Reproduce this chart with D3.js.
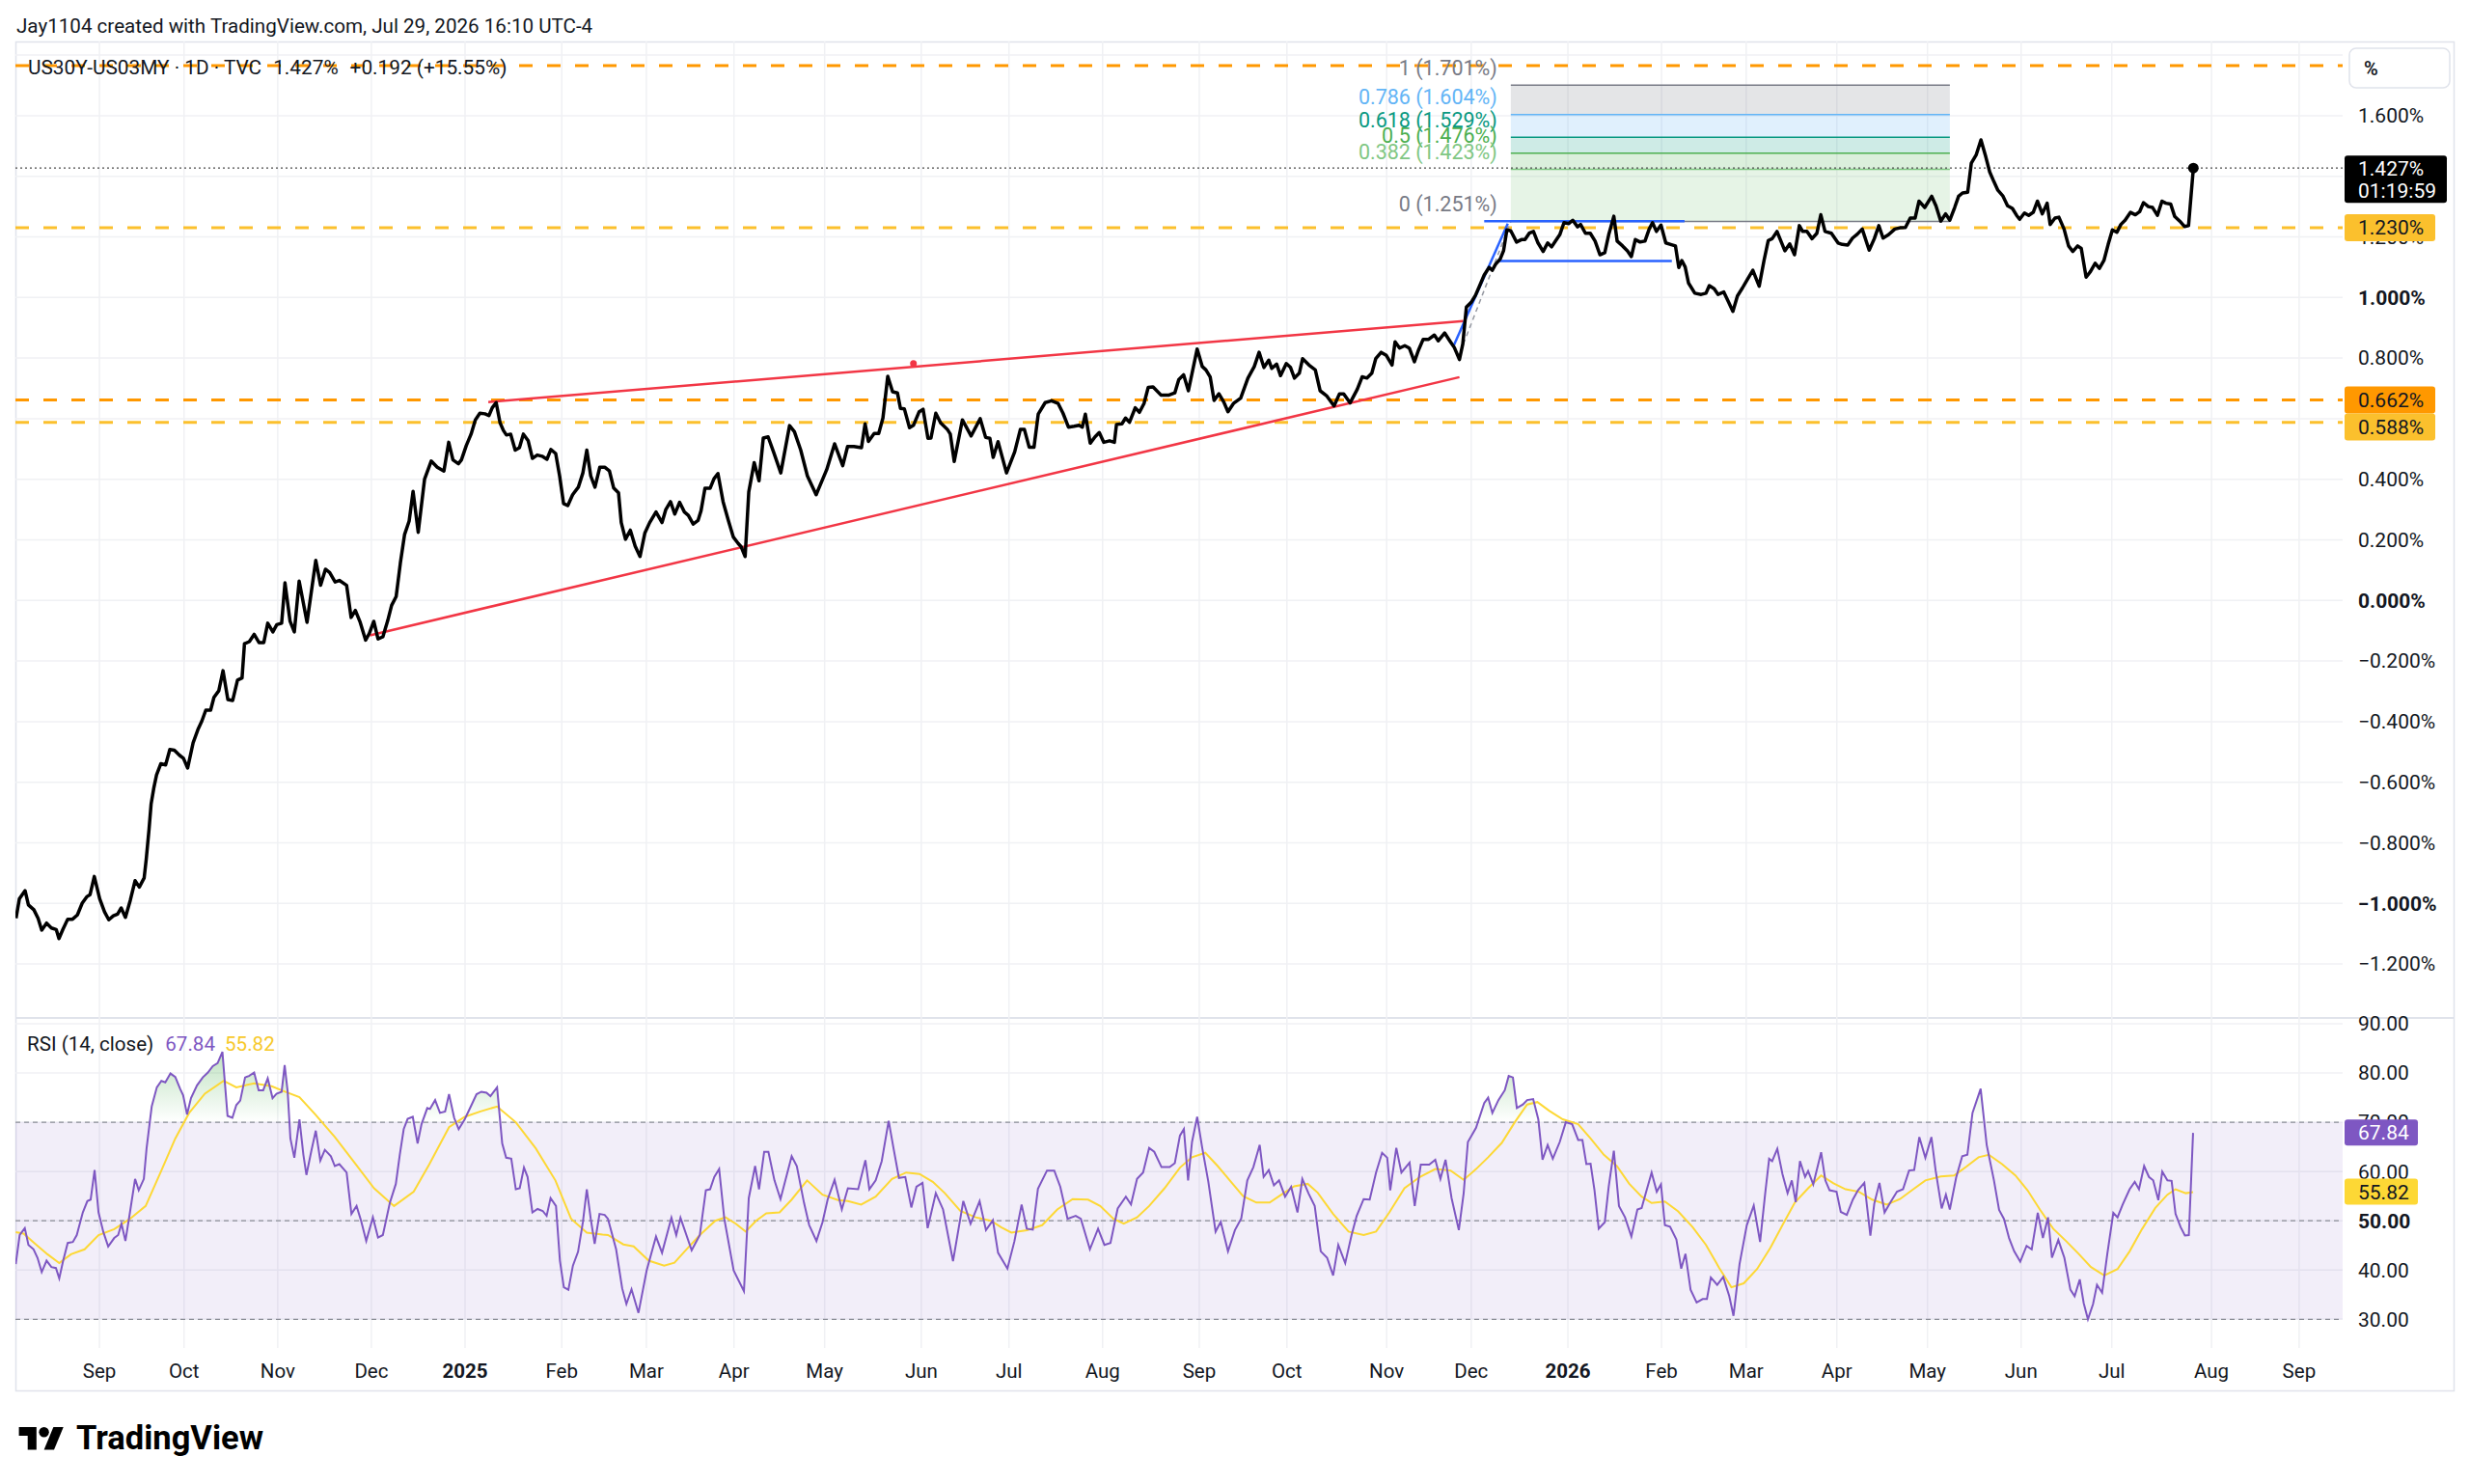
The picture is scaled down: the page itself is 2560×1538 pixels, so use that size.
<!DOCTYPE html>
<html>
<head>
<meta charset="utf-8">
<script src="https://cdn.jsdelivr.net/npm/d3@7"></script>
<style>
  body { margin: 0; background: #fff; }
  svg { display: block; font-family: Roboto, "Liberation Sans", sans-serif; }
</style>
</head>
<body>
<div id="chart"></div>
<script>
// Datos. Días contados desde 2024-09-03 (primera sesión de septiembre)
const startDay = "2024-09-03";

// US30Y-US03MY, cierre diario (día, %)
const pricePoints = [
  [-27.6,-1.049],[-26.5,-0.985],[-24.6,-0.958],[-23.5,-1.005],[-21.7,-1.021],[-20.3,-1.049],[-19.1,-1.088],[-17.5,-1.065],
  [-15.9,-1.081],[-14.3,-1.086],[-13.4,-1.116],[-12.1,-1.086],[-10.5,-1.052],[-8.9,-1.052],[-7.3,-1.038],[-5.7,-0.999],
  [-4.2,-0.978],[-3.1,-0.971],[-1.7,-0.911],[0.1,-0.985],[1.7,-1.028],[3.1,-1.054],[4.6,-1.041],[6.0,-1.035],[7.2,-1.015],
  [8.6,-1.046],[10.2,-0.990],[11.8,-0.925],[13.2,-0.946],[14.8,-0.916],[15.5,-0.853],[16.4,-0.757],[17.1,-0.672],[18.0,-0.619],
  [18.9,-0.576],[20.3,-0.539],[21.9,-0.543],[23.3,-0.492],[24.8,-0.494],[26.5,-0.511],[27.8,-0.521],[29.2,-0.553],[31.0,-0.470],
  [32.6,-0.426],[33.9,-0.398],[35.2,-0.362],[36.8,-0.362],[37.9,-0.320],[39.5,-0.298],[40.9,-0.232],[42.5,-0.327],[44.1,-0.330],
  [45.7,-0.263],[47.2,-0.256],[48.0,-0.143],[49.6,-0.136],[51.2,-0.112],[52.8,-0.139],[54.4,-0.139],[55.7,-0.075],[57.4,-0.104],
  [58.7,-0.080],[60.3,-0.075],[61.4,0.058],[63.1,-0.069],[64.5,-0.104],[66.1,0.064],[68.7,-0.072],[71.6,0.132],[73.2,0.050],
  [74.8,0.103],[76.2,0.092],[78.0,0.061],[79.4,0.066],[81.8,0.050],[83.3,-0.056],[84.7,-0.033],[86.3,-0.072],[88.1,-0.131],
  [89.3,-0.109],[90.8,-0.069],[92.2,-0.127],[93.8,-0.120],[95.4,-0.067],[96.7,-0.016],[98.2,0.013],[99.6,0.124],[101.0,0.218],
  [102.5,0.262],[103.8,0.36],[105.5,0.225],[107.6,0.40],[109.8,0.46],[111.8,0.44],
  [114.0,0.427],[115.6,0.522],[117.0,0.464],[118.8,0.451],[119.8,0.464],[121.4,0.511],[123.0,0.549],[124.4,0.596],[125.9,0.618],
  [127.6,0.616],[128.9,0.610],[130.0,0.636],[131.3,0.653],[132.6,0.586],[133.7,0.561],[134.7,0.546],[136.1,0.549],[137.6,0.496],
  [139.0,0.504],[140.3,0.549],[141.9,0.527],[143.3,0.469],[144.9,0.480],[146.5,0.476],[148.1,0.466],[149.4,0.498],[151.0,0.485],
  [152.3,0.411],[153.6,0.320],[155.0,0.313],[156.6,0.349],[158.5,0.374],[160.0,0.421],[161.3,0.496],[162.6,0.411],[164.0,0.374],
  [165.6,0.440],[167.2,0.440],[168.8,0.427],[170.2,0.371],[171.8,0.355],[172.7,0.257],[174.1,0.202],[175.7,0.232],[177.3,0.179],
  [178.9,0.145],[180.5,0.222],[182.1,0.257],[184.2,0.292],[186.2,0.257],[187.4,0.299],[189.0,0.326],[190.4,0.285],[192.0,0.324],
  [193.6,0.292],[194.9,0.281],[196.5,0.252],[198.1,0.264],[199.1,0.296],[200.4,0.370],[202.1,0.370],[203.4,0.402],[204.7,0.419],
  [206.4,0.326],[208.2,0.262],[209.8,0.209],[211.4,0.188],[212.4,0.177],[213.7,0.145],[214.9,0.358],[216.7,0.455],[218.3,0.395],
  [219.7,0.536],[221.3,0.540],[223.1,0.490],[225.5,0.421],[228.4,0.577],[230.0,0.557],[232.1,0.496],[234.3,0.411],[237.2,0.349],
  [240.7,0.432],[243.3,0.517],[246.0,0.445],[247.6,0.508],[249.7,0.508],[252.2,0.504],[253.4,0.583],[254.5,0.525],[256.4,0.551],
  [257.9,0.551],[259.3,0.602],[260.9,0.740],
  [262.5,0.689],[264.1,0.685],[265.1,0.634],[266.4,0.632],[268.1,0.570],[269.4,0.578],[271.3,0.623],[272.6,0.631],[274.2,0.535],
  [275.2,0.536],[276.8,0.618],[278.4,0.586],[280.6,0.565],[281.6,0.549],[282.9,0.459],[285.6,0.596],[288.5,0.543],[291.5,0.600],
  [293.3,0.538],[294.7,0.535],[295.8,0.472],[297.4,0.524],[300.2,0.421],[302.9,0.490],[304.8,0.565],[306.1,0.565],[307.7,0.506],
  [309.3,0.506],[310.7,0.615],[313.0,0.653],[315.1,0.659],[317.3,0.650],[318.9,0.618],[320.7,0.572],[322.6,0.575],[324.2,0.578],
  [325.3,0.572],[326.3,0.615],[327.9,0.519],[329.5,0.540],[330.9,0.554],[332.4,0.522],[334.3,0.527],[335.9,0.522],[336.6,0.581],
  [338.4,0.583],[339.6,0.602],[340.9,0.588],[342.8,0.636],[344.2,0.621],[345.7,0.650],[347.1,0.703],[348.7,0.705],[351.3,0.678],
  [354.0,0.678],[355.9,0.685],[357.2,0.729],[358.8,0.745],[360.4,0.692],[363.3,0.830],[365.0,0.772],[366.2,0.761],[367.6,0.738],
  [368.9,0.660],[370.5,0.682],[372.1,0.655],[373.5,0.623],[375.3,0.650],[377.7,0.668],[380.1,0.734],[382.2,0.772],[383.8,0.819],
  [385.4,0.769],[387.0,0.793],[388.0,0.766],[389.6,0.780],[390.9,0.742],[392.8,0.782],[394.2,0.769],[395.5,0.734],[397.1,0.750],
  [398.2,0.798],[400.3,0.777],[402.4,0.761],[404.0,0.692],[406.1,0.676],[408.6,0.642],[410.4,0.682],[411.8,0.682],[413.9,0.652],
  [416.3,0.697],[417.9,0.738],[419.5,0.734],[421.1,0.750],[422.4,0.798],[424.2,0.819],[425.9,0.809],[427.8,0.777],[428.8,0.854],
  [430.3,0.833],[432.0,0.841],[433.5,0.833],[435.2,0.788],[436.5,0.825],[438.1,0.862],[439.9,0.862],[441.8,0.876],[443.1,0.857],
  [445.2,0.883],[446.9,0.857],[448.4,0.835],[450.1,0.795],[451.2,0.846],[452.4,0.968],[454.0,0.984],[455.4,1.007],[456.7,1.037],
  [458.3,1.074],[459.9,1.099],[461.0,1.090],[462.0,1.109],[463.6,1.127],[464.7,1.154],[465.8,1.223],[467.1,1.220],[469.0,1.183],
  [470.6,1.191],[471.8,1.191],[473.2,1.212],[474.6,1.218],[476.1,1.180],[477.8,1.152],[479.3,1.180],[480.6,1.167],[482.0,1.188],
  [483.3,1.207],[484.7,1.247],[486.3,1.244],[487.6,1.255],[489.2,1.233],[490.2,1.241],[491.8,1.212],[493.4,1.212],[495.0,1.186],
  [496.6,1.141],[498.2,1.148],[499.5,1.207],[501.2,1.268],[502.3,1.186],[504.1,1.170],[505.7,1.154],[507.0,1.135],[508.3,1.191],
  [509.9,1.183],[511.5,1.186],[512.9,1.226],[514.0,1.247],[515.3,1.218],[516.8,1.239],[518.4,1.180],[520.0,1.175],[521.6,1.170],
  [522.7,1.099],[523.7,1.122],[524.8,1.101],[525.9,1.048],[528.0,1.014],[530.1,1.010],[531.7,1.014],[532.8,1.039],[534.4,1.029],
  [535.7,1.010],[537.6,1.018],[539.2,0.984],[540.6,0.954],[542.1,1.005],[543.8,1.032],[545.3,1.058],[547.2,1.090],[549.3,1.037],
  [550.9,1.122],[552.3,1.188],[553.6,1.194],[555.2,1.218],[556.5,1.186],[557.8,1.154],[559.4,1.177],[561.0,1.141],
  [562.6,1.237],[563.7,1.218],[565.1,1.218],[566.8,1.194],[568.4,1.212],[569.7,1.273],[571.1,1.218],[573.2,1.212],[575.4,1.180],
  [576.8,1.175],[578.6,1.173],[580.2,1.196],[581.8,1.209],[583.4,1.226],[585.7,1.156],[587.4,1.194],[588.9,1.237],[590.3,1.196],
  [592.1,1.207],[594.2,1.226],[595.9,1.230],[597.7,1.231],[599.3,1.262],[600.9,1.262],[602.2,1.318],[604.1,1.297],[606.4,1.334],
  [607.8,1.303],[609.4,1.252],[611.0,1.276],[612.4,1.255],[614.0,1.297],[615.3,1.334],[616.6,1.345],[618.3,1.347],[619.5,1.443],
  [621.1,1.470],[622.7,1.520],[624.3,1.464],[625.6,1.414],[627.0,1.382],[628.3,1.354],[629.9,1.336],[631.5,1.303],[633.1,1.294],
  [634.5,1.271],[635.5,1.258],[637.1,1.279],[638.5,1.271],[640.0,1.281],[641.4,1.318],[643.0,1.276],[644.6,1.311],[645.6,1.241],
  [647.2,1.262],[648.5,1.265],[650.2,1.226],[651.7,1.170],[653.1,1.152],[654.7,1.170],[655.9,1.162],[657.5,1.067],[658.9,1.085],
  [660.5,1.113],[661.9,1.096],[663.4,1.122],[664.8,1.175],[666.2,1.223],[667.7,1.215],[669.0,1.241],[670.4,1.255],[672.2,1.281],
  [673.8,1.273],[675.2,1.283],[676.5,1.313],[678.1,1.300],[679.5,1.297],[681.1,1.271],[682.6,1.318],[683.9,1.311],[685.5,1.308],
  [686.8,1.268],[688.5,1.252],[690.1,1.234],[691.4,1.237],[693.0,1.427]
];

// RSI(14) (día, valor)
const rsiPoints = [
  [-27.7,41.2],[-26.4,47.1],[-24.7,48.5],[-23.5,45.1],[-21.8,44.2],[-20.5,42.5],[-19.1,39.6],[-17.5,41.9],[-15.9,40.6],[-14.4,40.4],
  [-13.3,38.3],[-12.0,41.9],[-10.5,45.5],[-8.8,45.7],[-7.5,47.1],[-5.5,51.7],[-4.0,54.0],[-2.9,54.3],[-1.6,60.3],[-0.3,51.7],
  [1.3,47.7],[2.9,44.8],[4.9,46.5],[6.2,47.1],[7.3,49.4],[8.6,45.9],[10.1,51.7],[11.8,58.5],[13.0,56.2],[14.7,58.5],[15.6,64.7],
  [17.3,73.2],[19.0,77.1],[20.5,78.4],[21.8,78.1],[23.5,79.9],[25.1,79.2],[26.7,76.8],[27.7,75.5],[29.0,71.6],[30.3,74.9],
  [32.3,77.5],[34.2,79.1],[35.9,80.1],[37.5,81.4],[39.1,82.0],[40.7,84.3],[42.4,71.3],[44.0,70.9],[45.3,73.5],[46.6,74.4],
  [48.2,79.1],[49.5,79.4],[51.2,80.1],[52.7,76.5],[54.2,76.5],[55.7,78.9],[57.3,74.9],[58.6,75.8],[60.3,76.2],[61.3,81.6],
  [62.3,76.2],[63.2,66.7],[64.5,62.8],[66.2,70.6],[67.5,63.4],[68.5,59.3],[70.1,64.1],[71.6,68.3],[73.1,62.2],[74.6,64.4],
  [76.6,63.1],[77.9,61.1],[79.4,61.5],[81.8,59.8],[83.4,51.4],[85.1,53.0],[86.6,50.0],[88.3,45.9],[90.5,50.7],[92.2,46.6],
  [93.8,47.1],[96.1,53.6],[98.1,57.5],[99.4,63.4],[100.7,68.6],[102.0,70.7],[103.7,71.1],[105.3,65.7],[106.6,69.6],[108.5,72.9],
  [109.4,72.7],[111.1,74.5],[112.7,71.9],[114.4,72.2],[115.7,75.7],[117.4,70.9],[118.9,68.6],[120.9,70.6],[122.9,73.2],[124.8,75.7],
  [126.4,76.2],[128.1,76.0],[129.4,75.3],[131.6,77.1],[133.3,65.7],[134.6,62.8],[136.3,62.6],[137.8,56.4],[139.1,56.6],[140.5,60.8],
  [141.7,58.9],[143.3,51.7],[145.0,52.4],[146.7,52.0],[148.0,51.0],[149.3,54.6],[151.1,53.0],[152.4,41.9],[153.7,36.5],[155.2,36.0],
  [156.7,40.9],[158.4,43.7],[160.0,49.7],[161.3,56.4],[162.6,50.4],[163.9,45.3],[165.5,51.4],[167.2,51.2],
  [168.3,50.4],[171.0,44.2],[173.0,36.3],[174.4,33.1],[176.1,36.1],[178.4,31.3],[181.1,39.9],[184.2,46.8],[186.2,43.5],[189.3,50.6],
  [190.9,47.1],[192.3,50.6],[196.0,44.0],[198.7,47.1],[200.7,56.2],[202.1,56.4],[203.5,58.9],[205.1,60.5],[206.8,50.4],[209.9,39.9],
  [213.3,35.7],[214.9,54.6],[217.0,61.1],[218.3,56.4],[220.0,64.0],[221.4,64.0],[223.4,58.2],[225.4,54.4],[229.1,63.1],[230.8,61.1],
  [233.2,53.6],[234.9,49.1],[237.3,45.9],[239.3,49.7],[241.0,54.3],[243.3,58.3],[245.7,52.3],[247.7,56.6],[251.1,56.4],[253.5,62.3],
  [254.8,56.4],[256.9,58.2],[258.9,62.1],[261.2,70.3],[262.9,64.4],[264.6,58.7],[266.7,58.9],[268.7,52.7],[270.4,56.9],[272.4,57.7],
  [274.1,48.5],[276.8,55.6],[279.2,52.3],[282.5,41.8],[285.9,54.0],[288.3,49.4],[291.3,54.0],[293.4,48.1],[295.7,50.1],[297.4,43.5],
  [300.5,40.3],[302.8,45.8],[305.2,53.3],[306.9,48.4],[308.9,48.2],[310.6,56.5],[313.6,60.2],[316.0,60.2],[318.0,56.9],[320.4,50.4],
  [323.1,51.0],[324.8,50.4],[327.8,44.2],[330.5,48.4],[332.6,45.1],[334.6,45.5],[337.0,52.5],[339.7,54.9],[341.4,53.3],[343.4,58.5],
  [345.4,59.8],[347.4,64.8],[349.1,64.0],[351.5,60.9],[354.2,60.9],[355.9,61.7],[357.6,67.3],[358.9,68.6],[360.3,58.2],[361.6,66.0],
  [363.3,71.1],[365.0,64.7],[367.0,57.9],[369.4,47.8],[371.1,49.8],[373.5,43.8],[375.8,48.1],[377.9,50.5],[379.9,58.2],[381.9,60.9],
  [384.0,65.4],[385.3,58.9],[387.0,60.3],[388.7,57.2],[390.4,58.2],[392.4,54.9],[394.4,56.9],[396.5,51.7],[398.1,58.5],[400.2,55.5],
  [402.2,53.0],[404.2,43.8],[406.3,42.5],[408.3,38.9],[410.0,45.1],[412.3,41.4],[414.4,47.1],[416.1,51.0],[418.4,54.4],[420.4,54.3],
  [422.5,59.8],[424.5,63.8],[426.2,62.8],[427.2,56.2],[429.2,64.8],[430.9,59.8],[433.6,61.8],[435.3,53.0],[437.3,61.4],[440.1,61.4],
  [442.1,62.4],[443.8,58.5],[445.5,62.4],[447.5,54.6],[449.9,48.1],[451.5,55.6],[452.9,66.0],[455.6,68.9],[458.3,73.9],[459.6,75.0],
  [461.0,71.9],[463.0,74.5],[465.1,76.5],[466.4,79.4],[467.8,79.1],[469.1,72.9],[471.1,73.6],[472.5,74.5],[474.5,74.7],[476.2,70.6],
  [477.6,62.4],[479.3,65.4],[481.0,62.6],[483.3,66.0],[485.3,70.0],[487.4,69.6],[489.4,66.4],[490.8,66.4],[492.1,61.5],[493.5,61.6],
  [494.8,56.2],[496.2,48.4],[498.2,49.7],[499.5,56.9],[501.2,64.2],[502.9,53.0],[504.9,50.7],[507.0,46.8],[509.0,52.3],[510.4,52.6],
  [512.0,56.1],[513.7,59.8],[515.4,55.9],[516.8,57.4],[518.1,49.1],[519.8,48.8],[521.9,46.2],[523.5,40.3],[524.9,43.3],[526.6,36.0],
  [528.6,33.4],[530.6,34.1],[532.0,34.1],[533.3,38.5],[535.4,37.0],[537.4,38.6],[539.4,34.7],[540.8,30.7],[542.8,41.2],[545.2,49.1],
  [547.5,53.1],[549.6,45.7],[551.3,55.6],[552.6,62.6],[553.6,62.1],[555.3,64.6],[557.0,59.5],[558.7,55.6],[560.1,58.2],[561.4,53.8],
  [562.8,62.1],[564.5,58.9],[565.5,60.1],[567.2,57.4],[569.8,63.9],[571.2,58.2],[572.6,56.2],[574.9,55.9],[576.3,51.8],[578.3,51.2],
  [580.3,54.3],[582.0,56.2],[584.1,57.7],[586.1,47.0],[587.4,53.5],[589.1,57.7],[590.8,51.7],[592.8,53.8],[594.9,55.9],[596.9,56.4],
  [598.9,60.2],[600.6,60.3],[602.3,67.0],[604.3,62.8],[606.3,67.0],[607.7,60.2],[609.7,52.5],[611.1,55.3],[612.4,52.3],[614.5,58.8],
  [616.5,63.1],[618.2,63.4],[619.9,71.9],[622.6,76.8],[624.6,65.4],[627.0,58.2],[628.7,52.2],[630.3,50.4],[632.0,46.5],[633.7,43.8],
  [635.7,41.7],[637.8,44.9],[639.5,44.2],[641.5,51.6],[643.2,46.5],[644.9,50.7],[646.2,42.5],[648.3,46.1],[650.3,42.5],[652.3,36.0],
  [653.7,34.7],[655.4,38.1],[656.7,33.3],[658.1,30.0],[659.8,33.1],[661.1,37.0],[662.8,35.4],[664.5,43.2],[666.5,51.6],[667.9,50.7],
  [669.6,53.3],[671.9,56.4],[673.6,57.9],[675.0,56.4],[676.7,61.1],[678.3,58.9],[679.7,58.2],[681.4,54.2],[682.7,60.0],[684.4,58.2],
  [685.8,58.1],[687.1,51.4],[688.8,48.7],[690.2,47.0],[691.5,47.1],[692.9,67.84]
];

// Media del RSI (día, valor)
const rsiMaPoints = [
  [-27.7,47.7],[-25.1,47.4],[-21.2,45.3],[-17.2,43.2],[-13.3,41.4],[-9.4,43.2],[-4.9,44.2],[-0.3,47.1],[4.9,48.3],[10.1,50.4],
  [15.3,53.0],[20.5,60.2],[25.1,66.7],[29.7,71.9],[34.9,75.8],[41.1,78.4],[45.3,77.1],[51.2,77.9],[57.0,77.3],[61.0,76.3],
  [66.2,75.1],[71.4,71.6],[77.9,67.0],[84.4,61.8],[90.9,56.6],[97.5,53.0],[104.0,55.9],[109.2,61.5],[115.7,69.0],[120.9,71.1],
  [126.1,72.2],[131.6,73.2],[137.8,70.0],[144.4,64.7],[150.9,58.2],[156.1,50.4],[161.3,47.6],[166.5,47.2],
  [168.3,47.1],[173.4,45.2],[176.8,44.8],[181.8,41.9],[186.9,40.9],[190.3,41.5],[193.7,43.8],[198.7,47.1],[203.8,50.0],[207.2,50.7],
  [210.6,49.4],[213.9,47.8],[217.3,50.0],[220.7,51.5],[225.1,51.7],[229.1,54.3],[234.2,58.2],[239.3,55.3],[244.4,54.2],[247.7,54.0],
  [252.1,53.3],[256.9,54.9],[262.3,58.5],[267.0,59.8],[271.4,59.5],[275.8,57.9],[279.8,55.6],[284.9,52.0],[290.0,50.7],[295.1,50.0],
  [298.4,48.7],[301.8,47.6],[306.9,48.1],[312.0,49.1],[317.0,52.3],[322.1,54.4],[327.2,54.3],[331.2,53.0],[335.6,50.4],[339.0,49.4],
  [343.4,50.7],[347.4,53.0],[352.5,56.6],[357.6,60.8],[361.6,62.9],[366.0,63.8],[370.1,61.1],[374.5,57.9],[378.5,55.0],[382.9,53.7],
  [387.3,53.7],[391.4,55.4],[395.4,57.0],[399.9,57.5],[403.2,55.7],[408.3,51.4],[413.4,47.8],[418.4,47.1],[422.5,47.8],[426.9,51.7],
  [431.9,56.6],[437.0,58.9],[442.1,60.5],[447.2,60.2],[451.5,58.3],[455.6,60.5],[459.6,62.9],[464.1,65.8],[468.4,70.0],[472.5,73.6],
  [475.9,74.1],[479.9,72.3],[484.3,70.6],[489.4,69.6],[493.5,66.7],[497.9,63.4],[502.2,61.1],[506.3,57.5],[510.4,54.9],[513.7,53.6],
  [518.1,53.9],[522.5,51.9],[527.3,48.7],[531.7,45.1],[536.0,40.5],[540.1,36.5],[544.2,37.3],[548.6,40.2],[553.0,44.5],[557.0,49.1],
  [561.1,53.7],[565.5,56.6],[569.8,59.2],[573.9,57.6],[577.9,56.4],[582.3,55.9],[586.7,54.3],[591.5,53.3],[595.9,54.4],[600.3,56.4],
  [604.3,58.2],[609.4,59.0],[613.8,59.2],[617.9,61.0],[621.9,62.9],[625.3,63.4],[629.7,61.5],[634.1,59.2],[638.1,56.2],[642.2,52.3],
  [646.6,48.4],[651.0,45.8],[655.0,43.3],[659.1,40.6],[663.5,38.9],[667.9,40.2],[671.9,43.8],[676.0,48.3],[680.4,52.6],[684.4,55.3],
  [687.1,56.4],[690.5,55.6],[692.9,55.82]
];

// Retroceso de Fibonacci
const fibRatios = [1, 0.786, 0.618, 0.5, 0.382, 0];
const fibValues = [1.701, 1.604, 1.529, 1.476, 1.423, 1.251];
const fibDays = [467.1, 612.4];

// Líneas horizontales discontinuas
const levelValues = [1.765, 1.230, 0.662, 0.588];
const levelLabelled = [false, true, true, true];

// Cuña (rojo) y bandera (azul): [[día, valor], [día, valor]]
const wedgeLines = [
  [[128.7, 0.655], [451.4, 0.922]],
  [[89.5, -0.115], [450.1, 0.737]]
];
const wedgeDot = [269.4, 0.782];
const flagLines = [
  [[448.2, 0.841], [466.1, 1.244]],
  [[458.3, 1.2516], [524.6, 1.2516]],
  [[463.1, 1.120], [520.4, 1.120]]
];
const fibTrend = [[451.4, 0.846], [467.1, 1.251]];

// Ejes
const priceTicks = [-1.2, -1.0, -0.8, -0.6, -0.4, -0.2, 0, 0.2, 0.4, 0.6, 0.8, 1.0, 1.2, 1.4, 1.6, 1.8];
const rsiTicks = [30, 40, 50, 60, 70, 80, 90];
const monthTickDates = ["2024-09-03","2024-10-01","2024-11-01","2024-12-02","2025-01-02","2025-02-03","2025-03-03",
  "2025-04-01","2025-05-01","2025-06-02","2025-07-01","2025-08-01","2025-09-02","2025-10-01","2025-11-03","2025-12-01",
  "2026-01-02","2026-02-02","2026-03-02","2026-04-01","2026-05-01","2026-06-01","2026-07-01","2026-08-03","2026-09-01"];
const monthTickLabels = ["Sep","Oct","Nov","Dec","2025","Feb","Mar","Apr","May","Jun","Jul","Aug",
  "Sep","Oct","Nov","Dec","2026","Feb","Mar","Apr","May","Jun","Jul","Aug","Sep"];

const lastPrice = 1.427, lastRsi = 67.84, lastRsiMa = 55.82;

// Dimensiones
const width = 2560, height = 1538;
const plotL = 16, plotR = 2428, frameR = 2543;
const frameT = 43, priceB = 1054, rsiT = 1056, rsiB = 1397, frameB = 1441;
const axisTextX = 2444;
const ink = "#131722";

const parseDay = d3.timeParse("%Y-%m-%d");
const day0 = parseDay(startDay);

const x = d3.scaleLinear().domain([-27.8, 742.4]).range([plotL, plotR]);
const y = d3.scaleLinear().domain([-1.2, 1.6]).range([999.1, 119.9]);
const yR = d3.scaleLinear().domain([30, 90]).range([1367.3, 1061]);

const svg = d3.select("#chart").append("svg")
  .attr("width", width).attr("height", height)
  .attr("viewBox", `0 0 ${width} ${height}`);

svg.append("rect").attr("width", width).attr("height", height).attr("fill", "#fff");

const defs = svg.append("defs");
defs.append("clipPath").attr("id", "clip-price").append("rect")
  .attr("x", plotL).attr("y", frameT).attr("width", plotR - plotL).attr("height", priceB - frameT);
defs.append("clipPath").attr("id", "clip-rsi").append("rect")
  .attr("x", plotL).attr("y", rsiT).attr("width", plotR - plotL).attr("height", rsiB - rsiT);
defs.append("clipPath").attr("id", "clip-ob").append("rect")
  .attr("x", plotL).attr("y", rsiT).attr("width", plotR - plotL).attr("height", yR(70) - rsiT);
defs.append("clipPath").attr("id", "clip-os").append("rect")
  .attr("x", plotL).attr("y", yR(30)).attr("width", plotR - plotL).attr("height", rsiB - yR(30));

const obGrad = defs.append("linearGradient").attr("id", "ob-grad")
  .attr("gradientUnits", "userSpaceOnUse").attr("x1", 0).attr("x2", 0)
  .attr("y1", yR(100)).attr("y2", yR(70));
obGrad.append("stop").attr("offset", 0).attr("stop-color", "#4caf50").attr("stop-opacity", 0.75);
obGrad.append("stop").attr("offset", 1).attr("stop-color", "#4caf50").attr("stop-opacity", 0);
const osGrad = defs.append("linearGradient").attr("id", "os-grad")
  .attr("gradientUnits", "userSpaceOnUse").attr("x1", 0).attr("x2", 0)
  .attr("y1", yR(30)).attr("y2", yR(0));
osGrad.append("stop").attr("offset", 0).attr("stop-color", "#f23645").attr("stop-opacity", 0);
osGrad.append("stop").attr("offset", 1).attr("stop-color", "#f23645").attr("stop-opacity", 0.75);

// Cabecera
svg.append("text").attr("x", 17).attr("y", 27).attr("dy", "0.35em")
  .attr("font-size", 20.6).attr("fill", ink)
  .text("Jay1104 created with TradingView.com, Jul 29, 2026 16:10 UTC-4");

// Marco
svg.append("rect").attr("x", plotL + 0.5).attr("y", frameT + 0.5)
  .attr("width", frameR - plotL).attr("height", frameB - frameT)
  .attr("fill", "none").attr("stroke", "#e0e3eb").attr("stroke-width", 1.5);
svg.append("line").attr("x1", plotL).attr("x2", frameR).attr("y1", priceB + 1).attr("y2", priceB + 1)
  .attr("stroke", "#e0e3eb").attr("stroke-width", 2);

// Rejilla
const monthDays = monthTickDates.map((s) => d3.timeDay.count(day0, parseDay(s)));
const grid = svg.append("g").attr("stroke", "#f0f1f4").attr("stroke-width", 1.5);
grid.selectAll("line.v").data(monthDays).enter().append("line")
  .attr("x1", (d) => x(d)).attr("x2", (d) => x(d))
  .attr("y1", frameT).attr("y2", rsiB);
grid.selectAll("line.hp").data(priceTicks.filter((t) => y(t) > frameT && y(t) < priceB)).enter().append("line")
  .attr("x1", plotL).attr("x2", plotR).attr("y1", (d) => y(d)).attr("y2", (d) => y(d));
grid.selectAll("line.hr").data(rsiTicks).enter().append("line")
  .attr("x1", plotL).attr("x2", plotR).attr("y1", (d) => yR(d)).attr("y2", (d) => yR(d));

// ---- Panel de precio ----
const price = svg.append("g").attr("clip-path", "url(#clip-price)");

// Rellenos y líneas del Fibonacci
const fibColors = ["#787b86", "#64b5f6", "#089981", "#4caf50", "#81c784", "#787b86"];
const fx0 = x(fibDays[0]), fx1 = x(fibDays[1]);
fibValues.slice(0, -1).forEach((v, i) => {
  price.append("rect")
    .attr("x", fx0).attr("width", fx1 - fx0)
    .attr("y", y(v)).attr("height", y(fibValues[i + 1]) - y(v))
    .attr("fill", fibColors[i]).attr("fill-opacity", 0.2);
});
price.selectAll("line.fib").data(fibValues).enter().append("line")
  .attr("x1", fx0).attr("x2", fx1).attr("y1", (d) => y(d)).attr("y2", (d) => y(d))
  .attr("stroke", (d, i) => fibColors[i]).attr("stroke-width", 1.5);

// Niveles horizontales
const levelColors = ["#ff9800", "#fbc02d", "#ff9800", "#fbc02d"];
price.selectAll("line.level").data(levelValues).enter().append("line")
  .attr("x1", plotL).attr("x2", plotR).attr("y1", (d) => y(d)).attr("y2", (d) => y(d))
  .attr("stroke", (d, i) => levelColors[i]).attr("stroke-width", 3)
  .attr("stroke-dasharray", "14 15");

// Último precio
price.append("line").attr("x1", plotL).attr("x2", plotR)
  .attr("y1", y(lastPrice)).attr("y2", y(lastPrice))
  .attr("stroke", "#4a4a4a").attr("stroke-width", 1.2).attr("stroke-dasharray", "2 3");

// Dibujos
const seg = (p) => `M${x(p[0][0])},${y(p[0][1])}L${x(p[1][0])},${y(p[1][1])}`;
price.selectAll("path.wedge").data(wedgeLines).enter().append("path")
  .attr("d", seg).attr("stroke", "#f23645").attr("stroke-width", 2.5).attr("fill", "none");
price.append("circle").attr("cx", x(wedgeDot[0])).attr("cy", y(wedgeDot[1])).attr("r", 3.5).attr("fill", "#f23645");
price.append("path").attr("d", seg(fibTrend)).attr("stroke", "#9598a1").attr("stroke-width", 1.5)
  .attr("stroke-dasharray", "5 4").attr("fill", "none");
price.selectAll("path.flag").data(flagLines).enter().append("path")
  .attr("d", seg).attr("stroke", "#2962ff").attr("stroke-width", 2.5).attr("fill", "none");

// Serie
const priceLine = d3.line().x((d) => x(d[0])).y((d) => y(d[1]));
price.append("path").datum(pricePoints)
  .attr("d", priceLine).attr("fill", "none").attr("stroke", "#000")
  .attr("stroke-width", 3.5).attr("stroke-linejoin", "round");
const lastPt = pricePoints[pricePoints.length - 1];
price.append("circle").attr("cx", x(lastPt[0])).attr("cy", y(lastPt[1])).attr("r", 5.5).attr("fill", "#000");

// Etiquetas Fibonacci
svg.append("g").selectAll("text").data(fibValues).enter().append("text")
  .attr("x", fx0 - 14).attr("y", (d) => y(d) - 18).attr("dy", "0.35em")
  .attr("text-anchor", "end").attr("font-size", 21.5)
  .attr("fill", (d, i) => fibColors[i])
  .text((d, i) => `${fibRatios[i]} (${d.toFixed(3)}%)`);

// Título
const title = svg.append("text").attr("x", 29).attr("y", 70).attr("dy", "0.35em")
  .attr("font-size", 20.8).attr("fill", ink);
title.append("tspan").text("US30Y-US03MY · 1D · TVC");
title.append("tspan").attr("dx", 12).text("1.427%");
title.append("tspan").attr("dx", 12).text("+0.192 (+15.55%)");

// ---- Panel RSI ----
const rsi = svg.append("g").attr("clip-path", "url(#clip-rsi)");
rsi.append("rect").attr("x", plotL).attr("width", plotR - plotL)
  .attr("y", yR(70)).attr("height", yR(30) - yR(70))
  .attr("fill", "#7e57c2").attr("fill-opacity", 0.1);
rsi.selectAll("line.band").data([70, 50, 30]).enter().append("line")
  .attr("x1", plotL).attr("x2", plotR).attr("y1", (d) => yR(d)).attr("y2", (d) => yR(d))
  .attr("stroke", "#8a8d96").attr("stroke-width", 1.3).attr("stroke-dasharray", "5 4");

rsi.append("path").datum(rsiPoints)
  .attr("clip-path", "url(#clip-ob)")
  .attr("d", d3.area().x((d) => x(d[0])).y0(yR(70)).y1((d) => yR(d[1])))
  .attr("fill", "url(#ob-grad)");
rsi.append("path").datum(rsiPoints)
  .attr("clip-path", "url(#clip-os)")
  .attr("d", d3.area().x((d) => x(d[0])).y0(yR(30)).y1((d) => yR(d[1])))
  .attr("fill", "url(#os-grad)");

const rsiLine = d3.line().x((d) => x(d[0])).y((d) => yR(d[1]));
rsi.append("path").datum(rsiMaPoints).attr("d", rsiLine)
  .attr("fill", "none").attr("stroke", "#fdd835").attr("stroke-width", 2);
rsi.append("path").datum(rsiPoints).attr("d", rsiLine)
  .attr("fill", "none").attr("stroke", "#7e57c2").attr("stroke-width", 2);

const rsiTitle = svg.append("text").attr("x", 28).attr("y", 1082).attr("dy", "0.35em")
  .attr("font-size", 20.6).attr("fill", ink);
rsiTitle.append("tspan").text("RSI (14, close)");
rsiTitle.append("tspan").attr("dx", 12).attr("fill", "#7e57c2").text(lastRsi.toFixed(2));
rsiTitle.append("tspan").attr("dx", 10).attr("fill", "#f7c92b").text(lastRsiMa.toFixed(2));

// ---- Escala de precios ----
const fmtPct = (v) => (v < -1e-9 ? "\u2212" : "") + Math.abs(v).toFixed(3) + "%";
const isRound = (v) => Math.abs(v - Math.round(v)) < 1e-9;

// Etiquetas de nivel en el eje (apiladas si se solapan)
const boxH = 28;
const axisLabels = levelValues
  .map((v, i) => ({ v, text: fmtPct(v), fill: levelColors[i], color: ink, w: 94, on: levelLabelled[i] }))
  .filter((d) => d.on)
  .map((d) => ({ ...d, cy: y(d.v) }))
  .sort((a, b) => a.cy - b.cy);
axisLabels.forEach((d, i) => {
  if (i > 0 && d.cy - axisLabels[i - 1].cy < boxH) d.cy = axisLabels[i - 1].cy + boxH;
});
const ly = y(lastPrice);

// Zonas tapadas por etiquetas o por el botón %: las marcas que quedan debajo no se ven
const covered = [[50, 91], [ly - 13, ly + 36]]
  .concat(axisLabels.map((d) => [d.cy - boxH / 2, d.cy + boxH / 2]))
  .sort((a, b) => a[0] - b[0])
  .reduce((acc, r) => {
    const last = acc[acc.length - 1];
    if (last && r[0] <= last[1] + 1) last[1] = Math.max(last[1], r[1]);
    else acc.push([r[0], r[1]]);
    return acc;
  }, []);
const hidden = (py) => covered.some(([a, b]) => py - 7 >= a && py + 7 <= b);

svg.append("g").selectAll("text").data(priceTicks.filter((t) => !hidden(y(t)))).enter().append("text")
  .attr("x", axisTextX).attr("y", (d) => y(d)).attr("dy", "0.35em")
  .attr("font-size", 21).attr("fill", ink)
  .attr("font-weight", (d) => (isRound(d) ? 700 : 400))
  .text(fmtPct);
svg.append("g").selectAll("text").data(rsiTicks).enter().append("text")
  .attr("x", axisTextX).attr("y", (d) => yR(d)).attr("dy", "0.35em")
  .attr("font-size", 21).attr("fill", ink)
  .attr("font-weight", (d) => (d === 50 ? 700 : 400))
  .text((d) => d.toFixed(2));

// Botón %
svg.append("rect").attr("x", 2435).attr("y", 50).attr("width", 104).attr("height", 41).attr("rx", 7)
  .attr("fill", "#fff").attr("stroke", "#e0e3eb").attr("stroke-width", 1.5);
svg.append("text").attr("x", 2450).attr("y", 71).attr("dy", "0.35em")
  .attr("font-size", 20).attr("font-weight", 600).attr("fill", ink).text("%");

const lab = svg.append("g").selectAll("g").data(axisLabels).enter().append("g");
lab.append("rect").attr("x", 2430).attr("y", (d) => d.cy - boxH / 2)
  .attr("width", (d) => d.w).attr("height", boxH).attr("rx", 3).attr("fill", (d) => d.fill);
lab.append("text").attr("x", axisTextX).attr("y", (d) => d.cy).attr("dy", "0.35em")
  .attr("font-size", 21).attr("fill", (d) => d.color).text((d) => d.text);

// Último precio con cuenta atrás
svg.append("rect").attr("x", 2430).attr("y", ly - 13).attr("width", 106).attr("height", 49)
  .attr("rx", 3).attr("fill", "#000");
svg.append("text").attr("x", axisTextX).attr("y", ly).attr("dy", "0.35em")
  .attr("font-size", 21).attr("fill", "#fff").text(fmtPct(lastPrice));
svg.append("text").attr("x", axisTextX).attr("y", ly + 23).attr("dy", "0.35em")
  .attr("font-size", 21).attr("fill", "#fff").text("01:19:59");

// Etiquetas RSI
const rsiLabels = [
  { v: lastRsi, fill: "#7e57c2", color: "#fff" },
  { v: lastRsiMa, fill: "#fdd835", color: ink }
];
const rl = svg.append("g").selectAll("g").data(rsiLabels).enter().append("g");
rl.append("rect").attr("x", 2430).attr("y", (d) => yR(d.v) - 14).attr("width", 76).attr("height", 27)
  .attr("rx", 3).attr("fill", (d) => d.fill);
rl.append("text").attr("x", axisTextX).attr("y", (d) => yR(d.v)).attr("dy", "0.35em")
  .attr("font-size", 21).attr("fill", (d) => d.color).text((d) => d.v.toFixed(2));

// ---- Eje temporal ----
svg.append("g").selectAll("text").data(monthDays).enter().append("text")
  .attr("x", (d) => x(d)).attr("y", 1421).attr("dy", "0.35em")
  .attr("text-anchor", "middle").attr("font-size", 20.5).attr("fill", ink)
  .attr("font-weight", (d, i) => (/^\d{4}$/.test(monthTickLabels[i]) ? 700 : 400))
  .text((d, i) => monthTickLabels[i]);

// Logo
const logo = svg.append("g").attr("fill", "#000");
const icon = logo.append("g").attr("transform", "translate(19.6,1473.8) scale(1.3)");
icon.append("path").attr("d", "M14 22H7V11H0V4h14v18z");
icon.append("circle").attr("cx", 20).attr("cy", 8).attr("r", 4);
icon.append("path").attr("d", "M28 22h-8l7.5-18h8L28 22z");
logo.append("text").attr("x", 79).attr("y", 1502)
  .attr("font-size", 34.5).attr("font-weight", 700)
  .text("TradingView");
</script>
</body>
</html>
